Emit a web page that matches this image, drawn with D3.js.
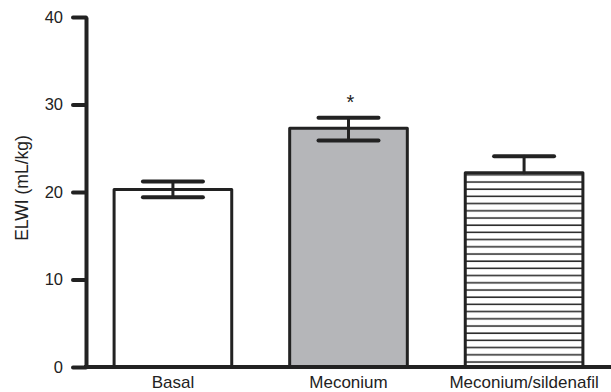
<!DOCTYPE html>
<meta charset="utf-8">
<script src="https://d3js.org/d3.v7.min.js"></script>
<style>
  body { margin: 0; background: #fff; }
  text { font-family: "Liberation Sans", Arial, sans-serif; fill: #222; }
</style>
<div id="chart"></div>
<script>
  // data
  const groups = ["Basal", "Meconium", "Meconium/sildenafil"];
  const means  = [20.3, 27.3, 22.2];
  const upper  = [21.2, 28.5, 24.1];
  const lower  = [19.4, 25.9, 22.2];
  const yTicks = [0, 10, 20, 30, 40];
  const fills  = ["#fff", "#b5b6b9", "url(#hatch)"];

  const W = 611, H = 392;
  const ink = "#222";

  const svg = d3.select("#chart").append("svg")
      .attr("width", W).attr("height", H);

  // horizontal hatch pattern for the sildenafil bar
  const pat = svg.append("defs").append("pattern")
      .attr("id", "hatch")
      .attr("patternUnits", "userSpaceOnUse")
      .attr("width", 10).attr("height", 7.2);
  pat.append("rect").attr("width", 10).attr("height", 7.2).attr("fill", "#fff");
  pat.append("line").attr("x1", 0).attr("x2", 10).attr("y1", 2).attr("y2", 2)
      .attr("stroke", ink).attr("stroke-width", 1.5);

  const x = d3.scaleBand().domain(groups).range([86, 611])
      .paddingInner(0.33).paddingOuter(0.16);
  const y = d3.scaleLinear().domain([0, 40]).range([367, 17]);

  const data = groups.map((g, i) => ({g, m: means[i], hi: upper[i], lo: lower[i], fill: fills[i]}));

  // bars
  svg.selectAll("rect.bar").data(data).join("rect")
      .attr("class", "bar")
      .attr("x", d => x(d.g))
      .attr("y", d => y(d.m))
      .attr("width", x.bandwidth())
      .attr("height", d => y(0) - y(d.m))
      .attr("fill", d => d.fill)
      .attr("stroke", ink).attr("stroke-width", 3)
      .attr("stroke-linejoin", "round");

  // error bars
  const cx = d => x(d.g) + x.bandwidth() / 2;
  const capW = 30;
  const eb = svg.append("g").attr("stroke", ink).attr("stroke-linecap", "round");
  eb.selectAll("line.stem").data(data).join("line")
      .attr("x1", cx).attr("x2", cx)
      .attr("y1", d => y(d.hi)).attr("y2", d => y(d.lo))
      .attr("stroke-width", 3);
  eb.selectAll("line.capHi").data(data).join("line")
      .attr("x1", d => cx(d) - capW).attr("x2", d => cx(d) + capW)
      .attr("y1", d => y(d.hi)).attr("y2", d => y(d.hi))
      .attr("stroke-width", 4);
  eb.selectAll("line.capLo").data(data.filter(d => d.lo < d.m)).join("line")
      .attr("x1", d => cx(d) - capW).attr("x2", d => cx(d) + capW)
      .attr("y1", d => y(d.lo)).attr("y2", d => y(d.lo))
      .attr("stroke-width", 4);

  // significance marker
  svg.append("text")
      .attr("x", cx(data[1]) + 2).attr("y", y(upper[1]) - 9)
      .attr("text-anchor", "middle").style("font-size", "20px")
      .text("*");

  // y axis
  const yAxis = svg.append("g").attr("transform", "translate(86,0)")
      .call(d3.axisLeft(y).tickValues(yTicks).tickSize(13).tickSizeOuter(0).tickPadding(10));
  yAxis.select(".domain").attr("stroke", ink).attr("stroke-width", 4);
  yAxis.selectAll(".tick line").attr("stroke", ink).attr("stroke-width", 4).attr("stroke-linecap", "round");
  yAxis.selectAll(".tick text").style("font-size", "16.5px").attr("fill", ink);

  // x baseline
  svg.append("line")
      .attr("x1", 84).attr("x2", W)
      .attr("y1", y(0)).attr("y2", y(0))
      .attr("stroke", ink).attr("stroke-width", 4);

  // category labels
  svg.selectAll("text.cat").data(data).join("text")
      .attr("class", "cat")
      .attr("x", cx).attr("y", 388)
      .attr("text-anchor", "middle").style("font-size", "17px")
      .text(d => d.g);

  // y title
  svg.append("text")
      .attr("transform", `translate(28,188) rotate(-90)`)
      .attr("text-anchor", "middle").style("font-size", "17.5px")
      .text("ELWI (mL/kg)");
</script>
